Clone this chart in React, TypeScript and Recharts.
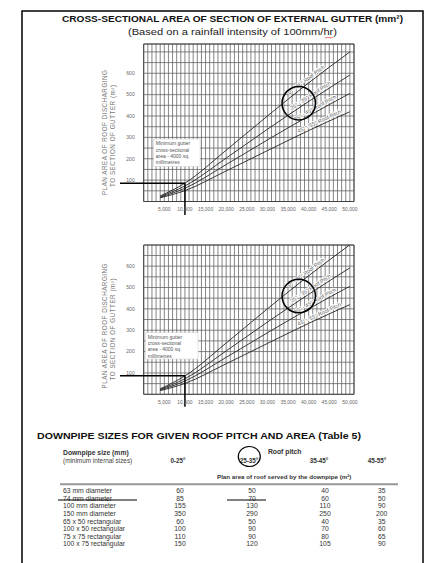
import React from "react";
import {
  LineChart,
  Line,
  XAxis,
  YAxis,
  CartesianGrid,
  ReferenceLine,
  ReferenceDot,
  ReferenceArea,
} from "recharts";

// ---- Gutter chart data (x: gutter cross-sectional area mm², y: plan area m²)
const gutterArea = [4000, 10000, 20000, 30000, 40000, 50000];
const pitch0to25 = [26, 86, 240, 400, 555, 700];
const pitch25to35 = [23, 73, 203, 338, 468, 592];
const pitch35to45 = [20, 62, 173, 288, 400, 506];
const pitch45to55 = [17, 51, 143, 238, 332, 420];

const xTickLabels = [5000, 10000, 15000, 20000, 25000, 30000, 35000, 40000, 45000, 50000];
const yTickLabels = [100, 200, 300, 400, 500, 600];

const pitchNames = [
  "0° - 25° Roof Pitch",
  "25° - 35° Roof Pitch",
  "35° - 45° Roof Pitch",
  "45° - 55° Roof Pitch",
];
const pitchLabelX = [40000, 41000, 42000, 43000];
const pitchLabelY = [555, 480, 421, 358];
const pitchLabelAngle = [37, 33, 29, 25];

const annotationLines = ["Minimum gutter", "cross-sectional", "area  -  4000 sq.", "millimetres"];

// ---- Downpipe table data
const downpipeSizes = [
  "63 mm diameter",
  "74 mm diameter",
  "100 mm diameter",
  "150 mm diameter",
  "65 x 50 rectangular",
  "100 x 50 rectangular",
  "75 x 75 rectangular",
  "100 x 75 rectangular",
];
const roofPitchCols = ["0-25°", "25-35°", "35-45°", "45-55°"];
const area0to25 = [60, 85, 155, 350, 60, 100, 110, 150];
const area25to35 = [50, 70, 130, 290, 50, 90, 90, 120];
const area35to45 = [40, 60, 110, 250, 40, 70, 80, 105];
const area45to55 = [35, 50, 90, 200, 35, 60, 65, 90];

const FONT = "'Liberation Sans', Arial, Helvetica, sans-serif";

type ChartProps = {
  top: number;
  height: number;
  marginTop: number;
  marginBottom: number;
  yMax: number;
  box: { x1: number; x2: number; y1: number; y2: number };
  cross: { y: number; xStart: number; yEnd: number };
  leader: string;
};

function GutterChart(p: ChartProps) {
  const data = gutterArea.map((x, i) => ({
    x,
    a: pitch0to25[i],
    b: pitch25to35[i],
    c: pitch35to45[i],
    d: pitch45to55[i],
  }));
  const gridX: number[] = [];
  for (let v = 0; v <= 51000; v += 1000) gridX.push(v);
  const gridY: number[] = [];
  for (let v = 0; v <= p.yMax; v += 50) gridY.push(v);
  const tickStyle = { fontSize: 5, fill: "#666", fontFamily: FONT };
  const series = ["a", "b", "c", "d"];
  return (
    <div style={{ position: "absolute", left: 0, top: p.top, width: 437, height: p.height }}>
      <LineChart
        width={437}
        height={p.height}
        data={data}
        margin={{ top: p.marginTop, right: 83, left: 113.7, bottom: p.marginBottom }}
      >
        <CartesianGrid stroke="#5c5c5c" strokeWidth={0.75} />
        <XAxis
          type="number"
          dataKey="x"
          domain={[0, 51000]}
          allowDataOverflow
          ticks={gridX}
          interval={0}
          tickFormatter={(v: number) => (xTickLabels.includes(v) ? v.toLocaleString("en-US") : "")}
          tickLine={false}
          axisLine={false}
          tick={tickStyle}
          tickSize={4}
          tickMargin={2}
          height={20}
        />
        <YAxis
          type="number"
          domain={[0, p.yMax]}
          allowDataOverflow
          ticks={gridY}
          interval={0}
          tickFormatter={(v: number) => (yTickLabels.includes(v) ? String(v) : "")}
          tickLine={false}
          axisLine={false}
          tick={tickStyle}
          tickSize={6}
          tickMargin={3}
          width={30}
        />
        <ReferenceArea
          x1={0}
          x2={51000}
          y1={0}
          y2={p.yMax}
          fill="none"
          stroke="#3a3a3a"
          strokeWidth={0.9}
          ifOverflow="visible"
        />
        <ReferenceArea
          x1={p.box.x1}
          x2={p.box.x2}
          y1={p.box.y1}
          y2={p.box.y2}
          fill="#ffffff"
          fillOpacity={1}
          stroke="#c8c8c8"
          strokeWidth={0.5}
        />
        {series.map((k) => (
          <Line
            key={k}
            dataKey={k}
            type="monotone"
            stroke="#262626"
            strokeWidth={0.9}
            dot={false}
            isAnimationActive={false}
          />
        ))}
        {pitchNames.map((name, i) => (
          <ReferenceDot
            key={name}
            x={pitchLabelX[i]}
            y={pitchLabelY[i]}
            r={0}
            shape={(sp: any) => (
              <text
                x={sp.cx}
                y={sp.cy}
                dy={-2.2}
                transform={`rotate(${-pitchLabelAngle[i]} ${sp.cx} ${sp.cy})`}
                textAnchor="middle"
                fontSize={5.4}
                fontFamily={FONT}
                fill="#5a5a5a"
                stroke="#fff"
                strokeWidth={1.8}
                paintOrder="stroke"
              >
                {name}
              </text>
            )}
          />
        ))}
        <ReferenceDot
          x={p.box.x1}
          y={p.box.y2}
          r={0}
          shape={(sp: any) => (
            <g>
              {annotationLines.map((t, i) => (
                <text
                  key={t}
                  x={sp.cx + 2.3}
                  y={sp.cy + 6.3 + i * 6.3}
                  fontSize={5}
                  fontFamily={FONT}
                  fill="#555"
                >
                  {t}
                </text>
              ))}
            </g>
          )}
        />
        <ReferenceDot
          x={gutterArea[0]}
          y={pitch25to35[0]}
          r={0}
          ifOverflow="visible"
          shape={(sp: any) => (
            <path
              d={p.leader.replace(/X/g, String(sp.cx)).replace(/Y/g, String(sp.cy))}
              fill="none"
              stroke="#555"
              strokeWidth={0.7}
            />
          )}
        />
        <ReferenceDot x={37600} y={460} r={16.7} fill="none" stroke="#000" strokeWidth={1.5} />
        <ReferenceLine
          segment={[
            { x: p.cross.xStart, y: p.cross.y },
            { x: 10000, y: p.cross.y },
          ]}
          stroke="#000"
          strokeWidth={1.5}
          ifOverflow="visible"
        />
        <ReferenceLine
          segment={[
            { x: 10000, y: p.cross.y },
            { x: 10000, y: p.cross.yEnd },
          ]}
          stroke="#000"
          strokeWidth={1.5}
          ifOverflow="visible"
        />
      </LineChart>
    </div>
  );
}

function Overlay() {
  const rowY = (i: number) => 493.1 + i * 7.6;
  const colX = [180, 252, 325, 381.7];
  const cols = [area0to25, area25to35, area35to45, area45to55];
  const headX = [178, 249, 319, 377];
  return (
    <svg
      width={437}
      height={563}
      style={{ position: "absolute", left: 0, top: 0 }}
      fontFamily={FONT}
    >
      {/* page frame */}
      <path d="M22,563 L22,11 L423,11 L423,563" fill="none" stroke="#000" strokeWidth={1.5} />
      {/* main title */}
      <text
        x={232.5}
        y={21.6}
        textAnchor="middle"
        fontSize={9.4}
        fontWeight="bold"
        fill="#111"
        textLength={341}
        lengthAdjust="spacingAndGlyphs"
      >
        CROSS-SECTIONAL AREA OF SECTION OF EXTERNAL GUTTER (mm²)
      </text>
      <text
        x={232.5}
        y={34.5}
        textAnchor="middle"
        fontSize={9.4}
        fill="#222"
        textLength={209}
        lengthAdjust="spacingAndGlyphs"
      >
        (Based on a rainfall intensity of 100mm/hr)
      </text>
      <polyline
        points="325,37 326,38.2 327,37 328,38.2 329,37 330,38.2 331,37 332,38.2 333,37"
        fill="none"
        stroke="#e03030"
        strokeWidth={0.6}
      />
      {/* y-axis titles */}
      {[132.5, 326].map((cy, k) => (
        <g key={k} fill="#777" fontSize={6.3}>
          <text
            x={104}
            y={cy}
            transform={`rotate(-90 104 ${cy})`}
            textAnchor="middle"
            dominantBaseline="central"
            textLength={125}
            lengthAdjust="spacing"
          >
            PLAN AREA OF ROOF DISCHARGING
          </text>
          <text
            x={112.5}
            y={cy + 3.5}
            transform={`rotate(-90 112.5 ${cy + 3.5})`}
            textAnchor="middle"
            dominantBaseline="central"
            textLength={102}
            lengthAdjust="spacing"
          >
            TO SECTION OF GUTTER (m²)
          </text>
        </g>
      ))}
      {/* table title */}
      <text
        x={37}
        y={438.8}
        fontSize={9.8}
        fontWeight="bold"
        fill="#111"
        textLength={324}
        lengthAdjust="spacingAndGlyphs"
      >
        DOWNPIPE SIZES FOR GIVEN ROOF PITCH AND AREA (Table 5)
      </text>
      {/* table header */}
      <text x={63} y={455} fontSize={6.8} fontWeight="bold" fill="#333">
        Downpipe size (mm)
      </text>
      <text x={63} y={462.5} fontSize={6.4} fill="#444">
        (minimum internal sizes)
      </text>
      <text x={284.7} y={454} fontSize={6.8} fontWeight="bold" fill="#333" textAnchor="middle">
        Roof pitch
      </text>
      {roofPitchCols.map((c, i) => (
        <text key={c} x={headX[i]} y={462.5} fontSize={6.3} fontWeight="bold" fill="#333" textAnchor="middle">
          {c}
        </text>
      ))}
      <ellipse cx={249.3} cy={456.5} rx={11} ry={10} fill="none" stroke="#000" strokeWidth={1.2} />
      <text x={217} y={479} fontSize={6.2} fontWeight="bold" fill="#333">
        Plan area of roof served by the downpipe (m²)
      </text>
      <line x1={60} y1={484.3} x2={398} y2={484.3} stroke="#999" strokeWidth={2} />
      {downpipeSizes.map((s, i) => (
        <g key={s} fontSize={6.8} fill="#333">
          <text x={63} y={rowY(i)}>
            {s}
          </text>
          {cols.map((col, j) => (
            <text key={j} x={colX[j]} y={rowY(i)} textAnchor="middle">
              {col[i]}
            </text>
          ))}
        </g>
      ))}
      <line x1={58} y1={500} x2={137} y2={500} stroke="#000" strokeWidth={1} />
      <line x1={227} y1={500} x2={266} y2={500} stroke="#000" strokeWidth={1} />
    </svg>
  );
}

export default function App() {
  return (
    <div
      style={{
        position: "absolute",
        left: 0,
        top: 0,
        width: 437,
        height: 563,
        background: "#fff",
        fontFamily: FONT,
        overflow: "hidden",
      }}
    >
      <Overlay />
      <GutterChart
        top={0}
        height={230}
        marginTop={44}
        marginBottom={8.5}
        yMax={737}
        box={{ x1: 2380, x2: 13690, y1: 164, y2: 292 }}
        cross={{ y: 85, xStart: -5750, yEnd: -63 }}
        leader="M X,Y M X-2,Y Q X-9,Y-18 X-6,Y-41.5"
      />
      <GutterChart
        top={230}
        height={190}
        marginTop={15}
        marginBottom={5.7}
        yMax={699}
        box={{ x1: 440, x2: 13180, y1: 165, y2: 289 }}
        cross={{ y: 87, xStart: -5750, yEnd: -58 }}
        leader="M X,Y M X-2,Y Q X-10,Y-12 X-8.5,Y-31.5"
      />
    </div>
  );
}
